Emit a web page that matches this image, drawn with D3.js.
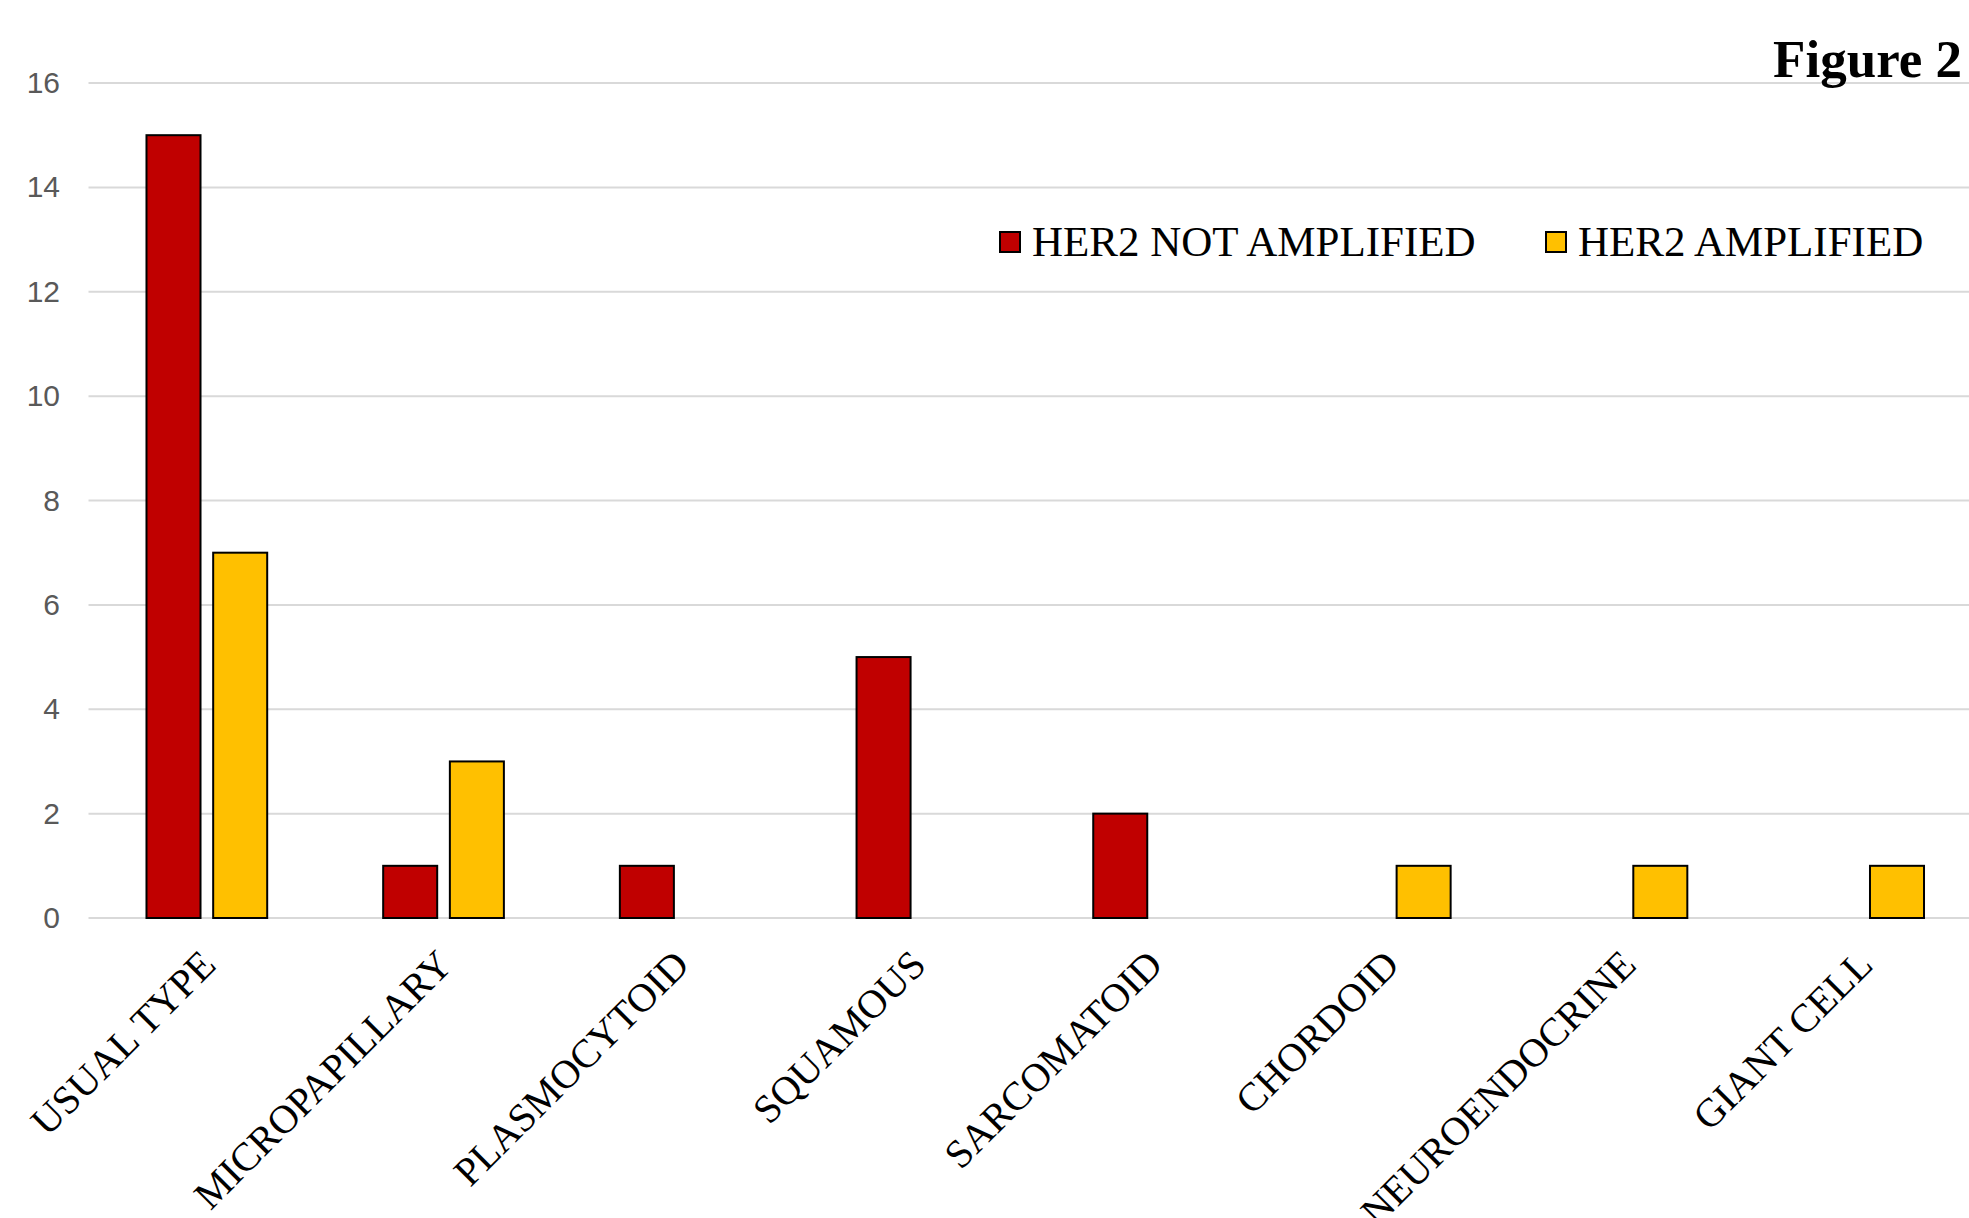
<!DOCTYPE html>
<html>
<head>
<meta charset="utf-8">
<script src="https://cdn.jsdelivr.net/npm/d3@7"></script>
<style>
  body { margin: 0; background: #fff; }
  svg { display: block; }
</style>
</head>
<body>
<div id="chart"></div>
<script>
// data
const categories = ["USUAL TYPE", "MICROPAPILLARY", "PLASMOCYTOID", "SQUAMOUS",
  "SARCOMATOID", "CHORDOID", "NEUROENDOCRINE", "GIANT CELL"];
const series = ["HER2 NOT AMPLIFIED", "HER2 AMPLIFIED"];
const notAmplified = [15, 1, 1, 5, 2, 0, 0, 0];
const amplified = [7, 3, 0, 0, 0, 1, 1, 1];
const yTicks = [0, 2, 4, 6, 8, 10, 12, 14, 16];
const colors = ["#C00000", "#FFC000"];

const width = 1969, height = 1218;

const svg = d3.select("#chart").append("svg")
  .attr("width", width)
  .attr("height", height);

svg.append("rect").attr("width", width).attr("height", height).attr("fill", "#fff");

const y = d3.scaleLinear().domain([0, 16]).range([918, 83]);

const x = d3.scaleBand()
  .domain(categories)
  .range([88.5, 1982])
  .paddingInner(0.49)
  .paddingOuter(0.245);

const xSub = d3.scaleBand()
  .domain(series)
  .range([0, x.bandwidth()])
  .paddingInner(0.19);

// gridlines
svg.append("g")
  .attr("class", "grid")
  .selectAll("line")
  .data(yTicks)
  .join("line")
  .attr("x1", 88.5)
  .attr("x2", width)
  .attr("y1", d => y(d))
  .attr("y2", d => y(d))
  .attr("stroke", "#d9d9d9")
  .attr("stroke-width", 2);

// y axis labels
const yAxis = svg.append("g")
  .attr("transform", "translate(60,0)")
  .call(d3.axisLeft(y).tickValues(yTicks).tickSize(0).tickPadding(0));
yAxis.select(".domain").remove();
yAxis.selectAll("text")
  .attr("font-family", "'Liberation Sans', Arial, sans-serif")
  .attr("font-size", 30)
  .attr("fill", "#595959");

// bars
const rows = categories.map((c, i) => ({
  cat: c,
  vals: [
    { key: series[0], v: notAmplified[i], color: colors[0] },
    { key: series[1], v: amplified[i], color: colors[1] }
  ]
}));

svg.append("g")
  .selectAll("g")
  .data(rows)
  .join("g")
  .attr("transform", d => `translate(${x(d.cat)},0)`)
  .selectAll("rect")
  .data(d => d.vals.filter(b => b.v > 0))
  .join("rect")
  .attr("x", d => xSub(d.key))
  .attr("width", xSub.bandwidth())
  .attr("y", d => y(d.v))
  .attr("height", d => y(0) - y(d.v))
  .attr("fill", d => d.color)
  .attr("stroke", "#000")
  .attr("stroke-width", 2);

// x axis labels
const xAxis = svg.append("g")
  .attr("transform", `translate(0,${y(0)})`)
  .call(d3.axisBottom(x).tickSize(0).tickPadding(0));
xAxis.select(".domain").remove();
xAxis.selectAll("text")
  .attr("font-family", "'Liberation Serif', 'Times New Roman', serif")
  .attr("font-size", 40)
  .attr("fill", "#000")
  .attr("text-anchor", "end")
  .attr("dy", 0)
  .attr("transform", "translate(11,49) rotate(-45)");

// legend
const legendX = [1000, 1546];
const lg = svg.append("g").attr("class", "legend");
series.forEach((s, i) => {
  lg.append("rect")
    .attr("x", legendX[i])
    .attr("y", 232)
    .attr("width", 20)
    .attr("height", 20)
    .attr("fill", colors[i])
    .attr("stroke", "#000")
    .attr("stroke-width", 2);
  lg.append("text")
    .attr("x", legendX[i] + 32)
    .attr("y", 256)
    .attr("font-family", "'Liberation Serif', 'Times New Roman', serif")
    .attr("font-size", 43)
    .attr("fill", "#000")
    .text(s);
});

// figure label
svg.append("text")
  .attr("x", 1962)
  .attr("y", 77)
  .attr("text-anchor", "end")
  .attr("font-family", "'Liberation Serif', 'Times New Roman', serif")
  .attr("font-weight", "bold")
  .attr("font-size", 53)
  .attr("fill", "#000")
  .text("Figure 2");
</script>
</body>
</html>
